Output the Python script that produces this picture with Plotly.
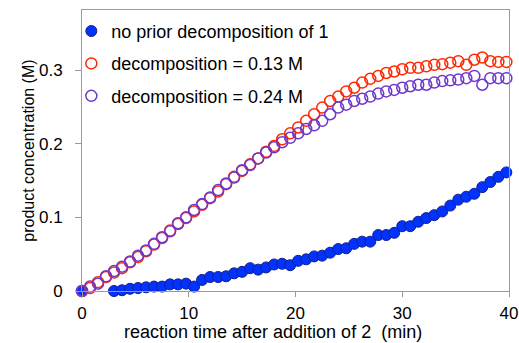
import plotly.graph_objects as go

# ---- data ----
blue_t = [0.0] + [3.0 + 0.75 * k for k in range(50)]
blue_c = [0.0,
          0.000, 0.001, 0.003, 0.004, 0.005, 0.006, 0.006, 0.009, 0.009, 0.010,
          0.006, 0.015, 0.019, 0.019, 0.020, 0.024, 0.026,
          0.031, 0.029, 0.032, 0.036, 0.037, 0.035, 0.041, 0.043, 0.047, 0.048,
          0.052, 0.057, 0.058, 0.064, 0.067, 0.067, 0.076, 0.076, 0.079, 0.088,
          0.088, 0.094, 0.099, 0.103, 0.108, 0.116, 0.124, 0.128, 0.132, 0.141,
          0.148, 0.155, 0.161]

dec_t = [0.75 * k for k in range(54)]
red_c = [0.000, 0.004, 0.012, 0.019, 0.025, 0.031, 0.039, 0.046, 0.054, 0.063,
         0.072, 0.082, 0.091, 0.099, 0.108, 0.117, 0.126, 0.135, 0.145, 0.155,
         0.163, 0.172, 0.180, 0.189, 0.197, 0.206, 0.214, 0.222, 0.231, 0.240,
         0.249, 0.258, 0.264, 0.271, 0.276, 0.283, 0.288, 0.292, 0.296, 0.298,
         0.301, 0.303, 0.303, 0.305, 0.307, 0.308, 0.310, 0.312, 0.307, 0.314,
         0.317, 0.312, 0.311, 0.311]
purple_c = [0.000, 0.006, 0.010, 0.020, 0.027, 0.033, 0.040, 0.048, 0.055, 0.064,
            0.073, 0.081, 0.092, 0.100, 0.110, 0.118, 0.127, 0.137, 0.146, 0.154,
            0.164, 0.171, 0.180, 0.188, 0.195, 0.202, 0.208, 0.214, 0.220, 0.225,
            0.231, 0.240, 0.249, 0.253, 0.258, 0.261, 0.264, 0.268, 0.271, 0.273,
            0.276, 0.278, 0.280, 0.280, 0.283, 0.285, 0.286, 0.287, 0.289, 0.292,
            0.280, 0.289, 0.289, 0.289]

names = ["no prior decomposition of 1", "decomposition = 0.13 M", "decomposition = 0.24 M"]
x_ticks = [0, 10, 20, 30, 40]
y_ticks = [0, 0.1, 0.2, 0.3]
y_tick_text = ["0", "0.1", "0.2", "0.3"]
x_title = "reaction time after addition of 2\u00a0\u00a0(min)"
y_title = "product concentration (M)"

FONT = "Liberation Sans, Arial, sans-serif"

fig = go.Figure()
fig.add_trace(go.Scatter(
    x=blue_t, y=blue_c, mode="markers", name=names[0], legendgroup="a",
    marker=dict(symbol="circle", size=11, color="rgb(0,51,255)",
                line=dict(color="rgb(20,30,140)", width=1)),
    cliponaxis=False))
fig.add_trace(go.Scatter(
    x=dec_t, y=red_c, mode="markers", name=names[1], legendgroup="b",
    marker=dict(symbol="circle-open", size=11, color="rgb(255,40,0)",
                line=dict(width=1.5)),
    cliponaxis=False))
fig.add_trace(go.Scatter(
    x=dec_t, y=purple_c, mode="markers", name=names[2], legendgroup="c",
    marker=dict(symbol="circle-open", size=11, color="rgb(110,55,205)",
                line=dict(width=1.5)),
    cliponaxis=False))

axis_common = dict(showline=True, linecolor="#9a9a9a", linewidth=1, mirror=True,
                   showgrid=False, zeroline=False, ticks="outside", automargin=False,
                   tickcolor="#9a9a9a", tickfont=dict(size=17, color="black", family=FONT))

fig.update_xaxes(range=[0, 40], tickvals=x_ticks, ticklen=5, ticklabelstandoff=2,
                 **axis_common)
fig.update_yaxes(range=[0, 0.3815], tickvals=y_ticks, ticktext=y_tick_text, ticklen=6,
                 ticklabelstandoff=9, **axis_common)

fig.add_annotation(text=x_title, xref="paper", yref="paper", x=0.447, y=-0.145,
                   xanchor="center", yanchor="middle", showarrow=False,
                   font=dict(size=18, color="black", family=FONT))
fig.add_annotation(text=y_title, xref="paper", yref="paper", x=-0.126, y=0.5,
                   xanchor="center", yanchor="middle", showarrow=False, textangle=-90,
                   font=dict(size=16, color="black", family=FONT))

fig.update_layout(
    width=519, height=343,
    margin=dict(l=82, r=10, t=10, b=52),
    plot_bgcolor="white", paper_bgcolor="white",
    font=dict(family=FONT, color="black"),
    legend=dict(x=-0.025, y=0.99, xanchor="left", yanchor="top",
                bgcolor="rgba(0,0,0,0)", font=dict(size=18, family=FONT, color="black"),
                tracegroupgap=6, traceorder="grouped", itemwidth=30),
    showlegend=True,
)

fig.write_html("out.html")
